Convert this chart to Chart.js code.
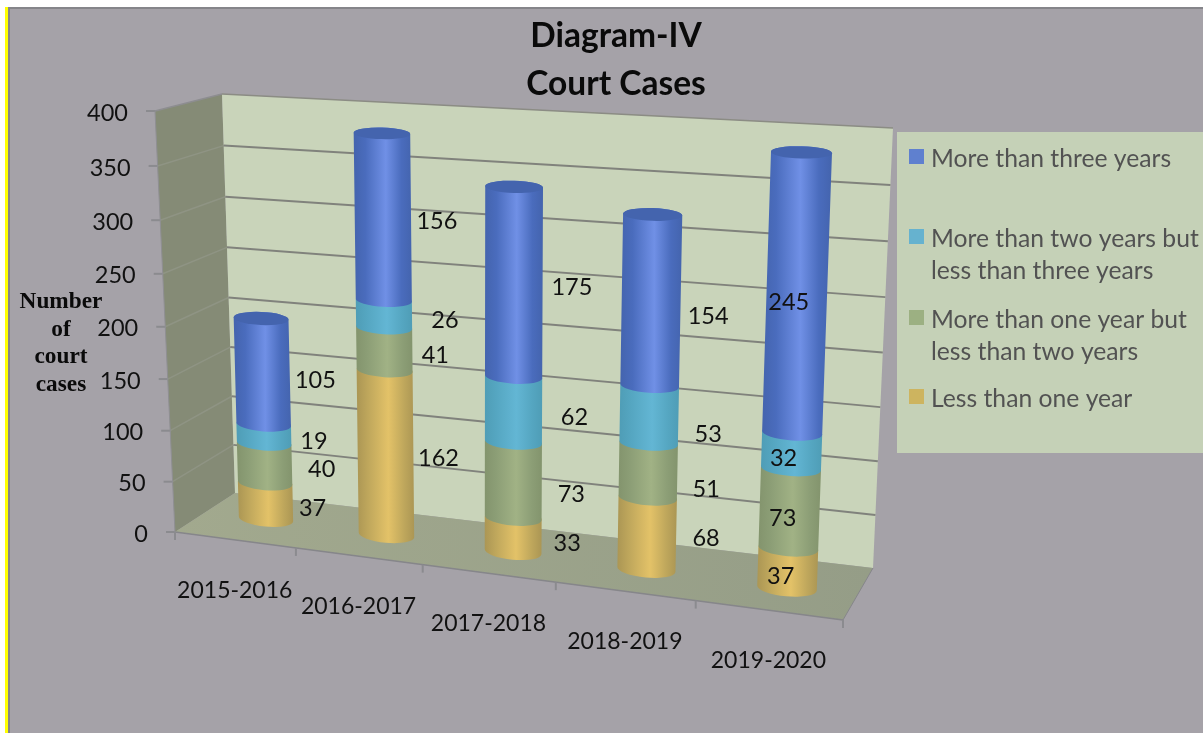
<!DOCTYPE html>
<html><head><meta charset="utf-8">
<style>html,body{margin:0;padding:0;background:#fff;overflow:hidden}canvas{display:block}</style>
<script src="https://cdn.jsdelivr.net/npm/chart.js@4/dist/chart.umd.min.js"></script>
</head><body><canvas id="c" width="1203" height="733"></canvas>
<script>
const categories = ['2015-2016','2016-2017','2017-2018','2018-2019','2019-2020'];
const lessThanOneYear = [37,162,33,68,37];
const oneToTwoYears = [40,41,73,51,73];
const twoToThreeYears = [19,26,62,53,32];
const moreThanThreeYears = [105,156,175,154,245];
const titleLines = ['Diagram-IV','Court Cases'];
const yAxisTitleLines = ['Number','of','court','cases'];
const legendEntries = [
  {lines:['More than three years'], color:'#5f80cf', y:157},
  {lines:['More than two years but','less than three years'], color:'#66b2cf', y:237},
  {lines:['More than one year but','less than two years'], color:'#9cb082', y:318},
  {lines:['Less than one year'], color:'#cdb45f', y:397}
];
// hand-placed data label nudges [dx from bar axis, dy from segment middle], per series then category
const labelNudges = [
  [[47,8],[53,5],[54,9],[59,5],[-7,8]],
  [[57,6],[51,6],[58,14],[58,19],[-7,10]],
  [[50,8],[61,6],[61,8],[59,20],[-8,8]],
  [[53,9],[54,4],[58,5],[57,16],[-8,8]]
];
const shades = [
  ['#ab9654','#e3c268','#bfa75c'],
  ['#83946d','#a1b285','#8c9e76'],
  ['#4f9db6','#63b6d4','#55a6c1'],
  ['#4464ae','#7090e6','#4a6cbd']
];
const FONT = 'Lato, Carlito, sans-serif';

function quad(p){ // unit square -> quad, p = [(0,0),(1,0),(1,1),(0,1)]
  const [a,b,c,d]=p;
  const dx1=b[0]-c[0],dx2=d[0]-c[0],sx=a[0]-b[0]+c[0]-d[0];
  const dy1=b[1]-c[1],dy2=d[1]-c[1],sy=a[1]-b[1]+c[1]-d[1];
  const den=dx1*dy2-dx2*dy1;
  const g=(sx*dy2-dx2*sy)/den,h=(dx1*sy-sx*dy1)/den;
  const A=b[0]-a[0]+g*b[0],B=d[0]-a[0]+h*d[0],C=a[0];
  const D=b[1]-a[1]+g*b[1],E=d[1]-a[1]+h*d[1],F=a[1];
  return (s,t)=>{const w=g*s+h*t+1;return [(A*s+B*t+C)/w,(D*s+E*t+F)/w];};
}
const lerp=(a,b,t)=>[a[0]+(b[0]-a[0])*t,a[1]+(b[1]-a[1])*t];
// corners of the 3D box
const FL=[175,532],FR=[843,620],BL=[235,493],BR=[873,568],TL=[222,94],TR=[893,128],SL=[155,111];
const front = quad([[266,519],[787,588],[802,137],[256,111]]);
const ease=t=>t-0.04*t*(1-t);            // slight foreshortening up the walls
const easeFront=t=>t-0.05*t*(1-t);       // same on the front edge of the side wall
const frontEdge=s=>lerp(FL,FR,s*(1-0.116)/(1-0.116*s)); // foreshortening along the floor edge

function poly(ctx,pts,fill){
  ctx.beginPath();pts.forEach((p,i)=>i?ctx.lineTo(p[0],p[1]):ctx.moveTo(p[0],p[1]));ctx.closePath();
  ctx.fillStyle=fill;ctx.fill();
}
function line(ctx,a,b,color,w){ctx.beginPath();ctx.moveTo(a[0],a[1]);ctx.lineTo(b[0],b[1]);ctx.strokeStyle=color;ctx.lineWidth=w;ctx.stroke();}
function text(ctx,str,x,y,font,color,align){ctx.font=font;ctx.fillStyle=color;ctx.textAlign=align||'center';ctx.textBaseline='middle';ctx.fillText(str,x,y);}

function barProject(chart,x,y){
  const xs=chart.scales.x,ys=chart.scales.y;
  const x0=xs.getPixelForValue(0),x1=xs.getPixelForValue(categories.length-1);
  const y0=ys.getPixelForValue(0),y1=ys.getPixelForValue(ys.max);
  return front((x-x0)/(x1-x0),(y0-y)/(y0-y1));
}
function drawCylinder(chart,ctx,el,seriesIdx,isTop){
  const {x,y,base,width}=el.getProps(['x','y','base','width'],true);
  const ys=chart.scales.y;
  const b=barProject(chart,x,base),t=barProject(chart,x,y);
  const bl=barProject(chart,x-1,base);
  const tlp=barProject(chart,x-1,y);
  const rb=width/2*(0.55+0.45*Math.hypot(b[0]-bl[0],b[1]-bl[1]));
  const rt=width/2*(0.55+0.45*Math.hypot(t[0]-tlp[0],t[1]-tlp[1]));
  const frac=v=>(ys.bottom-v)/(ys.bottom-ys.top);
  const ryb=rb*(0.28-0.08*frac(base)),ryt=rt*(0.28-0.08*frac(y));
  const rotb=Math.atan2(b[1]-bl[1],b[0]-bl[0])*0.7,rott=Math.atan2(t[1]-tlp[1],t[0]-tlp[0])*0.5;
  const g=ctx.createLinearGradient(Math.min(b[0],t[0])-rb,0,Math.max(b[0],t[0])+rb,0);
  const s=shades[seriesIdx];
  g.addColorStop(0,s[0]);g.addColorStop(0.2,s[2]);g.addColorStop(0.55,s[1]);g.addColorStop(0.82,s[2]);g.addColorStop(1,s[0]);
  ctx.beginPath();
  ctx.ellipse(t[0],t[1],rt,ryt,rott,Math.PI,2*Math.PI);
  ctx.ellipse(b[0],b[1],rb,ryb,rotb,0,Math.PI);
  ctx.closePath();ctx.fillStyle=g;ctx.fill();
  if(isTop){ctx.beginPath();ctx.ellipse(t[0],t[1],rt,ryt,rott,0,2*Math.PI);ctx.fillStyle=s[0];ctx.fill();}
}

const scene={
  id:'scene',
  beforeDraw(chart){
    const ctx=chart.ctx;
    ctx.save();
    ctx.fillStyle='#fff';ctx.fillRect(0,0,1203,733);
    ctx.fillStyle='#a5a2a8';ctx.fillRect(8,7,1195,726);
    ctx.fillStyle='#ffff00';ctx.fillRect(5,7,3,726);
    ctx.fillStyle='#85858a';ctx.fillRect(8,7,2,726);ctx.fillRect(8,7,1195,2);
    ctx.restore();
  },
  beforeDatasetsDraw(chart){
    const ctx=chart.ctx,ys=chart.scales.y,xs=chart.scales.x;
    ctx.save();
    poly(ctx,[FL,BL,TL,SL],'#858b76');
    poly(ctx,[BL,BR,TR,TL],'#c9d4ba');
    const fg=ctx.createLinearGradient(175,0,873,0);fg.addColorStop(0,'#a2a98e');fg.addColorStop(1,'#959d87');
    poly(ctx,[FL,FR,BR,BL],fg);
    line(ctx,TL,TR,'#8b8c84',1.5);
    line(ctx,SL,TL,'#8d8d90',1.5);
    line(ctx,FL,FR,'#86868a',1.5);
    line(ctx,FR,BR,'#86868a',1);
    const top=ys.getPixelForValue(ys.max),bot=ys.getPixelForValue(0);
    ys.ticks.forEach(tk=>{
      const t=(bot-ys.getPixelForValue(tk.value))/(bot-top);
      const a=lerp(FL,SL,easeFront(t)),m=lerp(BL,TL,ease(t)),e=lerp(BR,TR,ease(t));
      if(tk.value>0&&tk.value<ys.max){
        line(ctx,a,m,'#8f9484',1.5);
        line(ctx,m,e,'#80827c',2);
      }
      line(ctx,[a[0]-9,a[1]],a,'#8b8b8f',2);
      text(ctx,String(tk.value),a[0]-27,a[1]+2,'23.5px '+FONT,'#111','right');
    });
    line(ctx,FL,SL,'#8f8f93',1);
    const n=categories.length;
    for(let i=0;i<=n;i++){const p=frontEdge(i/n);line(ctx,p,[p[0],p[1]+8],'#8b8b8f',2);}
    xs.getLabels().forEach((lab,i)=>{const p=frontEdge((i+0.5)/n);text(ctx,lab,p[0],p[1]+50.5,'23px '+FONT,'#111');});
    // bars, bottom segment first, through Chart.js bar elements
    const metas=chart.data.datasets.map((d,i)=>chart.getDatasetMeta(i));
    categories.forEach((c,ci)=>metas.forEach((m,si)=>drawCylinder(chart,ctx,m.data[ci],si,si===metas.length-1)));
    ctx.restore();
  },
  beforeDatasetDraw(){return false;},
  afterDatasetsDraw(chart){
    const ctx=chart.ctx;
    ctx.save();
    chart.data.datasets.forEach((d,si)=>{
      chart.getDatasetMeta(si).data.forEach((el,ci)=>{
        const {x,y,base}=el.getProps(['x','y','base'],true);
        const p=barProject(chart,x,(y+base)/2);
        const [dx,dy]=labelNudges[si][ci];
        text(ctx,String(d.data[ci]),p[0]+dx,p[1]+dy,'23.5px '+FONT,'#111');
      });
    });
    // title
    titleLines.forEach((l,i)=>text(ctx,l,616,36+i*48,'bold 33.5px '+FONT,'#0a0a0a'));
    // y axis title
    yAxisTitleLines.forEach((l,i)=>text(ctx,l,61,302+i*27.7,'bold 23.3px "Liberation Serif", serif','#0a0a0a'));
    // legend
    ctx.fillStyle='#c5d1b7';ctx.fillRect(897,132,306,321);
    legendEntries.forEach(e=>{
      ctx.fillStyle=e.color;ctx.fillRect(909,e.y-8,15,15);
      e.lines.forEach((l,i)=>text(ctx,l,931,e.y+2+i*32,'24.7px '+FONT,'#525252','left'));
    });
    ctx.restore();
  }
};

new Chart(document.getElementById('c'),{
  type:'bar',
  data:{labels:categories,datasets:[
    {label:'Less than one year',data:lessThanOneYear,backgroundColor:'#cdb45f'},
    {label:'More than one year but less than two years',data:oneToTwoYears,backgroundColor:'#9cb082'},
    {label:'More than two years but less than three years',data:twoToThreeYears,backgroundColor:'#66b2cf'},
    {label:'More than three years',data:moreThanThreeYears,backgroundColor:'#5f80cf'}
  ]},
  options:{
    responsive:false,animation:false,
    layout:{padding:{left:192,right:335,top:113,bottom:200}},
    plugins:{legend:{display:false},title:{display:false},tooltip:{enabled:false}},
    datasets:{bar:{categoryPercentage:0.43,barPercentage:1}},
    scales:{
      x:{stacked:true,grid:{display:false},border:{display:false},ticks:{display:false}},
      y:{stacked:true,min:0,max:400,grid:{display:false},border:{display:false},ticks:{display:false,stepSize:50}}
    }
  },
  plugins:[scene]
});
</script></body></html>
